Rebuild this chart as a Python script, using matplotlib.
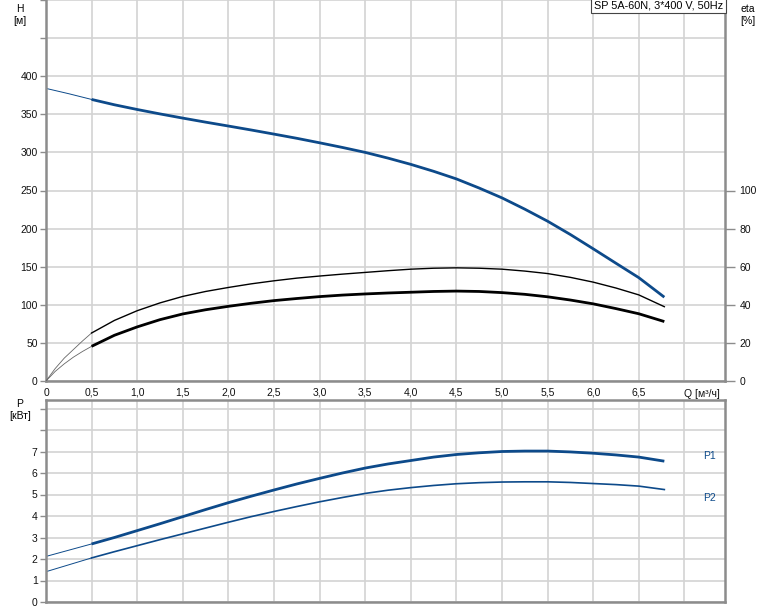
import matplotlib
matplotlib.use('Agg')
import matplotlib.pyplot as plt

plt.rcParams['font.family'] = ['Liberation Sans', 'DejaVu Sans']
plt.rcParams['font.size'] = 7.5

# pump data (Q in m3/h)
q = [0.0, 0.25, 0.5, 0.75, 1.0, 1.25, 1.5, 1.75, 2.0, 2.25, 2.5, 2.75, 3.0, 3.25,
     3.5, 3.75, 4.0, 4.25, 4.5, 4.75, 5.0, 5.25, 5.5, 5.75, 6.0, 6.25, 6.5, 6.78]
head = [384, 377, 369.5, 362.5, 356.3, 350.5, 345, 339.7, 334.6, 329.4, 324, 318.5, 312.6, 306.5,
        300, 292.5, 284.3, 275.2, 265.2, 253.2, 240.3, 225.5, 209.7, 192.2, 173.5, 154.5, 135.6, 110]
p1 = [2.12, 2.41, 2.7, 3.0, 3.32, 3.64, 3.97, 4.3, 4.62, 4.92, 5.21, 5.49, 5.75, 6.0,
      6.23, 6.42, 6.58, 6.74, 6.86, 6.94, 7.0, 7.02, 7.02, 6.98, 6.92, 6.84, 6.74, 6.55]
p2 = [1.41, 1.73, 2.05, 2.34, 2.62, 2.9, 3.17, 3.44, 3.71, 3.97, 4.21, 4.44, 4.66, 4.86,
      5.05, 5.2, 5.32, 5.42, 5.5, 5.55, 5.58, 5.59, 5.59, 5.56, 5.51, 5.46, 5.39, 5.23]

q_eta = [0.0, 0.1, 0.2, 0.3, 0.4, 0.5, 0.75, 1.0, 1.25, 1.5, 1.75, 2.0, 2.25, 2.5, 2.75, 3.0,
         3.25, 3.5, 3.75, 4.0, 4.25, 4.5, 4.75, 5.0, 5.25, 5.5, 5.75, 6.0, 6.25, 6.5, 6.78]
eta_pump = [0, 6.5, 12, 16.5, 21, 25.2, 31.8, 36.9, 41, 44.4, 47, 49.1, 51, 52.6, 54, 55.1,
            56.1, 57, 57.9, 58.7, 59.2, 59.4, 59.2, 58.7, 57.7, 56.4, 54.4, 51.9, 48.8, 45.2, 39]
eta_total = [0, 5, 9, 12.5, 15.5, 18.2, 24, 28.4, 32.2, 35.2, 37.4, 39.2, 40.8, 42.2, 43.3, 44.3,
             45.1, 45.7, 46.2, 46.6, 47, 47.2, 47, 46.4, 45.5, 44.2, 42.5, 40.5, 38, 35.3, 31.2]

x_ticks = [0, 0.5, 1.0, 1.5, 2.0, 2.5, 3.0, 3.5, 4.0, 4.5, 5.0, 5.5, 6.0, 6.5]
x_labels = ['0', '0,5', '1,0', '1,5', '2,0', '2,5', '3,0', '3,5', '4,0', '4,5', '5,0', '5,5', '6,0', '6,5']

blue = '#0d4a8a'
grid_c = '#d3d3d3'
spine_c = '#8c8c8c'

W, H = 774, 611
fig = plt.figure(figsize=(W / 100, H / 100), dpi=100)
ax = fig.add_axes([46 / W, (H - 381) / H, 679 / W, 381 / H])
ax2 = ax.twinx()
axp = fig.add_axes([46 / W, 9 / H, 679 / W, 202 / H])

xmax = 679 / 91.2
i0 = q.index(0.5)
j0 = q_eta.index(0.5)


def style(a):
    a.set_xlim(0, xmax)
    a.set_xticks(x_ticks + [7.0])
    a.grid(True, color=grid_c, linewidth=1.2)
    a.set_axisbelow(True)
    a.spines['top'].set_visible(False)
    for s in ['left', 'bottom', 'right']:
        a.spines[s].set_color(spine_c)
        a.spines[s].set_linewidth(1.8)
    a.tick_params(colors='#111111', length=4, width=1, color=spine_c, pad=2)


# head / efficiency panel
style(ax)
ax.set_ylim(0, 500)
ax.set_yticks(range(0, 501, 50))
ax.set_yticklabels([str(v) if v <= 400 else '' for v in range(0, 501, 50)])
ax.set_xticklabels(x_labels + [''])
ax.tick_params(axis='x', length=0, pad=5)

ax.plot(q[:i0 + 1], head[:i0 + 1], color=blue, linewidth=0.7)
ax.plot(q[i0:], head[i0:], color=blue, linewidth=2, solid_capstyle='butt')

ax2.set_ylim(0, 200)
ax2.set_yticks(range(0, 101, 20))
ax2.tick_params(colors='#111111', length=7, width=1, color=spine_c)
for s in ['top', 'left', 'bottom', 'right']:
    ax2.spines[s].set_visible(False)
ax2.plot(q_eta[:j0 + 1], eta_pump[:j0 + 1], color='#666666', linewidth=0.6)
ax2.plot(q_eta[j0:], eta_pump[j0:], color='black', linewidth=1.0)
ax2.plot(q_eta[:j0 + 1], eta_total[:j0 + 1], color='#666666', linewidth=0.6)
ax2.plot(q_eta[j0:], eta_total[j0:], color='black', linewidth=2.0, solid_capstyle='butt')

ax.text(7.0, -10, 'Q [м³/ч]', ha='left', va='top', fontsize=7.5, color='#111111')
fig.text(20 / W, 1 - 4 / H, 'H\n[м]', ha='center', va='top', fontsize=7.5, linespacing=1.3)
fig.text(748 / W, 1 - 4 / H, 'eta\n[%]', ha='center', va='top', fontsize=7.5, linespacing=1.3)
ax.text(0.997, 0.998, 'SP 5A-60N, 3*400 V, 50Hz', transform=ax.transAxes, ha='right', va='top',
        fontsize=7.8, bbox=dict(boxstyle='square,pad=0.25', fc='white', ec='#444444', lw=0.8))

# power panel
style(axp)
axp.set_ylim(0, 202 / 21.5)
axp.set_yticks(range(0, 10))
axp.set_yticklabels([str(v) if v <= 7 else '' for v in range(0, 10)])
axp.set_xticklabels([])
axp.tick_params(axis='x', length=0)
axp.spines['top'].set_visible(True)
axp.spines['top'].set_color(spine_c)
axp.spines['top'].set_linewidth(1.8)

axp.plot(q[:i0 + 1], p1[:i0 + 1], color=blue, linewidth=0.7)
axp.plot(q[i0:], p1[i0:], color=blue, linewidth=2, solid_capstyle='butt')
axp.plot(q[:i0 + 1], p2[:i0 + 1], color=blue, linewidth=0.7)
axp.plot(q[i0:], p2[i0:], color=blue, linewidth=1.2)
axp.text(7.2, 6.8, 'P1', color=blue, fontsize=7.5, va='center')
axp.text(7.2, 4.85, 'P2', color=blue, fontsize=7.5, va='center')
fig.text(20 / W, 1 - 399 / H, 'P\n[кВт]', ha='center', va='top', fontsize=7.5, linespacing=1.3)

fig.savefig('out.png', dpi=100)
